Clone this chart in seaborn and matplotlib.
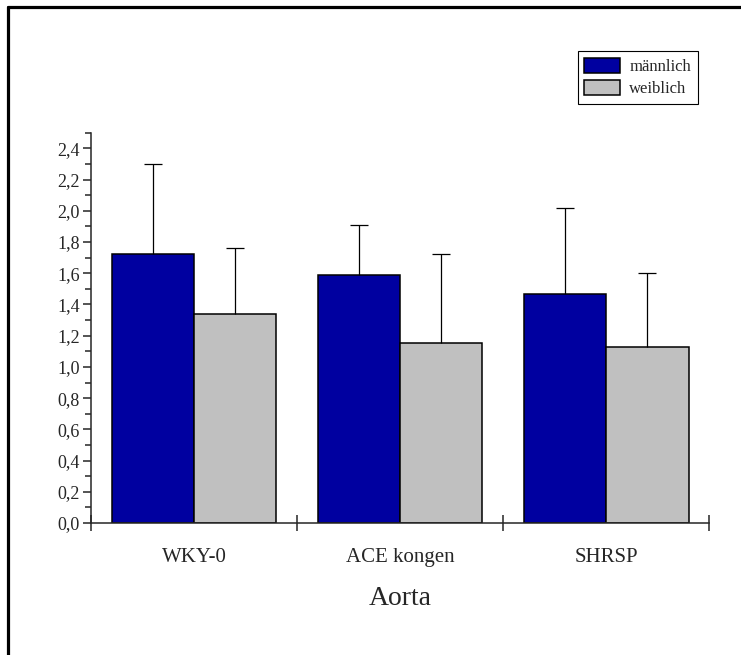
import numpy as np
import pandas as pd

import matplotlib
matplotlib.use("Agg")
import matplotlib.pyplot as plt
from matplotlib.lines import Line2D
from matplotlib.ticker import MultipleLocator, FuncFormatter, FixedLocator
import seaborn as sns

# =====================================================
# DATA
# =====================================================
groups = ["WKY-0", "ACE kongen", "SHRSP"]
sexes = ["männlich", "weiblich"]

male_mean = [1.72, 1.59, 1.47]
male_sd = [0.58, 0.32, 0.55]

female_mean = [1.34, 1.15, 1.13]
female_sd = [0.42, 0.57, 0.47]

colors = ["#0000A0", "#C0C0C0"]

# =====================================================
# STYLE
# =====================================================
sns.set_style("ticks")
plt.rcParams["font.family"] = ["Liberation Serif", "DejaVu Serif"]
plt.rcParams["axes.unicode_minus"] = False

df = pd.DataFrame({
    "Gruppe": groups * 2,
    "Geschlecht": [sexes[0]] * 3 + [sexes[1]] * 3,
    "Wert": male_mean + female_mean,
})
sd_all = [male_sd, female_sd]

fig = plt.figure(figsize=(7.41, 6.55), dpi=100)
ax = fig.add_axes([0.1228, 0.2015, 0.957 - 0.1228, 0.7974 - 0.2015])

sns.barplot(
    data=df,
    x="Gruppe",
    y="Wert",
    hue="Geschlecht",
    hue_order=sexes,
    palette=colors,
    errorbar=None,
    width=0.8,
    edgecolor="black",
    linewidth=1.1,
    saturation=1,
    ax=ax,
)

# one-sided error bars (upper only)
for cont, sd in zip(ax.containers, sd_all):
    xs = [b.get_x() + b.get_width() / 2 for b in cont]
    ys = [b.get_height() for b in cont]
    eb = ax.errorbar(
        xs, ys,
        yerr=[np.zeros(len(sd)), sd],
        fmt="none",
        ecolor="black",
        elinewidth=0.9,
        capsize=6.5,
        capthick=0.9,
        zorder=1,
    )
    # hide the cap sitting on the bar top
    caps = eb.lines[1]
    if len(caps) > 0:
        caps[0].set_visible(False)

# =====================================================
# AXES
# =====================================================
ax.set_xlim(-0.5, 2.5)
ax.set_ylim(0, 2.5)

ax.yaxis.set_major_locator(FixedLocator(np.arange(0, 2.41, 0.2)))
ax.yaxis.set_minor_locator(MultipleLocator(0.1))
ax.yaxis.set_major_formatter(
    FuncFormatter(lambda v, p: f"{v:.1f}".replace(".", ","))
)

ax.set_xticks([-0.5, 0.5, 1.5, 2.5])
ax.set_xticklabels([])
ax.set_xticks([0, 1, 2], minor=True)
ax.set_xticklabels(groups, minor=True, fontsize=15)
ax.tick_params(axis="x", which="major", direction="inout", length=12, width=1.1)
ax.tick_params(axis="x", which="minor", length=0, pad=18)

ax.tick_params(axis="y", which="major", direction="out", length=6, width=1.1,
               labelsize=13, pad=2)
ax.tick_params(axis="y", which="minor", direction="out", length=4, width=1.1)

ax.set_xlabel("Aorta", fontsize=20, labelpad=14)
ax.set_ylabel("")

for side in ["top", "right"]:
    ax.spines[side].set_visible(False)
for side in ["left", "bottom"]:
    ax.spines[side].set_linewidth(1.1)

# =====================================================
# LEGEND
# =====================================================
handles, labels = ax.get_legend_handles_labels()
ax.legend(
    handles, labels,
    loc="upper right",
    bbox_to_anchor=(697.7 / 741, 1 - 51 / 655),
    bbox_transform=fig.transFigure,
    fontsize=12,
    frameon=True,
    fancybox=False,
    edgecolor="black",
    framealpha=1,
    handlelength=2.15,
    handleheight=1.0,
    handletextpad=0.55,
    labelspacing=0.3,
    borderpad=0.4,
    borderaxespad=0,
)
ax.get_legend().get_frame().set_linewidth(0.8)

# =====================================================
# FRAME AROUND FIGURE (left + top visible)
# =====================================================
x0 = 8 / 741
y0 = 1 - 7 / 655
fig.add_artist(Line2D([x0, x0], [0, y0], color="black", lw=2.3,
                      transform=fig.transFigure))
fig.add_artist(Line2D([x0, 1], [y0, y0], color="black", lw=2.3,
                      transform=fig.transFigure))

plt.savefig("out.png", dpi=100)
plt.close()
